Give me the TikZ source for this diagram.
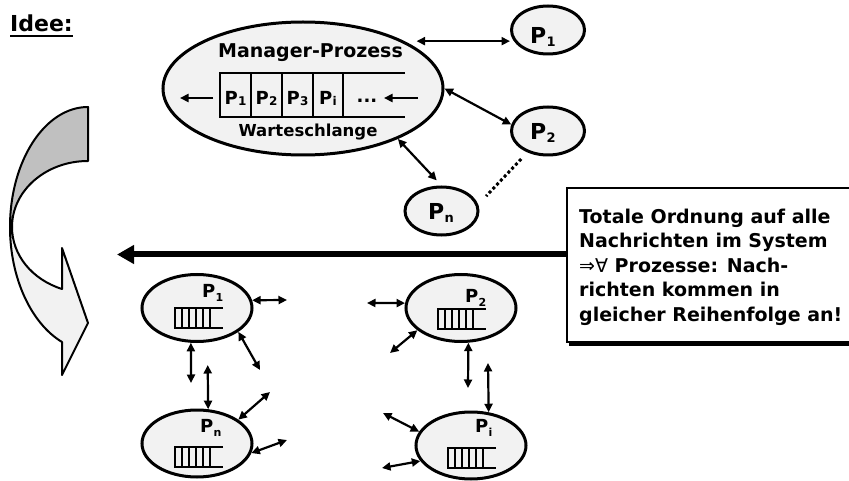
\documentclass[tikz,border=0pt]{standalone}
\usepackage{fontspec}
\setmainfont{DejaVu Sans}
\usetikzlibrary{arrows.meta,shapes.geometric}
\definecolor{lfill}{HTML}{F2F2F2}
\definecolor{cgray}{HTML}{C0C0C0}
\newcommand\fsz[1]{\fontsize{#1}{#1}\selectfont}
\newcommand\Psub[3]{P\kern0.3pt\raisebox{-#3pt}{\fsz{#2}#1}}
\begin{document}
\begin{tikzpicture}[x=1pt,y=-1pt,
  txt/.style={inner sep=0pt, font=\bfseries},
  proc/.style={ellipse, draw, line width=3pt, fill=lfill, inner sep=0pt},
  small/.style={minimum width=73pt, minimum height=48pt},
  big/.style={minimum width=110pt, minimum height=67pt},
  dbl/.style={line width=2.2pt, <->, >={Triangle[length=8.5pt,width=8pt]}},
  sgl/.style={line width=2.2pt, ->, >={Triangle[length=8.5pt,width=8pt]}},
  bigarrow/.style={line width=6pt, ->, >={Triangle[length=17pt,width=18pt]}},
  qline/.style={line width=1.5pt},
  miniq/.pic={
    \draw[line width=1.3pt] (48,0) -- (0,0) -- (0,20) -- (48,20);
    \foreach \xx in {7,14,21,28,35} \draw[line width=1.3pt] (\xx,0) -- (\xx,20);
  }
]
\useasboundingbox (0,0) rectangle (849,481);

% title
\node[txt, font=\bfseries\fsz{22}, anchor=base west] (idee) at (10,32) {Idee:};
\draw[line width=2pt] ([yshift=-4pt]idee.base west) -- ([yshift=-4pt]idee.base east);

% curved arrow
\filldraw[fill=cgray, line width=2pt, line join=round]
  (88,107) -- (88,161) .. controls (46,161) and (12,190.6) .. (12,227)
  -- (10,227) .. controls (10,160.8) and (45,107) .. (88,107) -- cycle;
\filldraw[fill=lfill, line width=2pt, line join=round]
  (12,227) .. controls (12,254.9) and (31.8,279.4) .. (62,289)
  -- (62,248) -- (88,323) -- (62,375) -- (62,342)
  .. controls (30.9,323.2) and (10,277.7) .. (10,227) -- cycle;

% manager process
\node[proc, minimum width=280pt, minimum height=133pt] (mgr) at (303,88.5) {};
\node[txt, font=\bfseries\fsz{19}, anchor=base] (mgrlbl) at (310.5,58) {Manager-Prozess};
\node[txt, font=\bfseries\fsz{16.5}, anchor=base] (wlbl) at (308,137) {Warteschlange};
\draw[qline] (405,73) -- (220,73) -- (220,117) -- (405,117);
\foreach \xx in {251,282,313,343} \draw[qline] (\xx,73) -- (\xx,117);
\node[txt, font=\bfseries\fsz{18}, anchor=base] (q1) at (235.5,105) {\Psub{1}{12}{1}};
\node[txt, font=\bfseries\fsz{18}, anchor=base] (q2) at (266.5,105) {\Psub{2}{12}{1}};
\node[txt, font=\bfseries\fsz{18}, anchor=base] (q3) at (297.5,105) {\Psub{3}{12}{1}};
\node[txt, font=\bfseries\fsz{18}, anchor=base] (q4) at (328,105) {\Psub{i}{12}{1}};
\node[txt, font=\bfseries\fsz{18}, anchor=base] (qd) at (367,103) {...};
\coordinate (qa1) at (213,98); \coordinate (qa2) at (180,98);
\coordinate (qb1) at (418,98); \coordinate (qb2) at (384,98);
\draw[sgl] (qa1) -- (qa2);
\draw[sgl] (qb1) -- (qb2);

% top processes
\node[proc, small] (p1t) at (548,30) {};
\node[proc, small] (p2t) at (548,131) {};
\node[proc, small] (pnt) at (441.5,211) {};
\node[txt, font=\bfseries\fsz{22}, anchor=base west] (l1t) at (530,44) {\Psub{1}{13}{3}};
\node[txt, font=\bfseries\fsz{22}, anchor=base west] (l2t) at (530,140) {\Psub{2}{13}{3}};
\node[txt, font=\bfseries\fsz{22}, anchor=base west] (lnt) at (428,220) {\Psub{n}{13}{3}};
\draw[dbl, shorten <=12pt] (mgr.25) -- (mgr.25 -| p1t.west);
\draw[dbl] (mgr.0) -- (p2t.170);
\draw[dbl, shorten >=7pt] (mgr.-28) -- (pnt.north);
\draw[line width=3pt, dash pattern=on 3pt off 2.5pt, shorten <=9pt, shorten >=11.5pt] (p2t.-134) -- (pnt.10);

% box with shadow
\node[fill=black, minimum width=315.5pt, minimum height=156.5pt, inner sep=0pt] (boxsh) at (726.5,268) {};
\node[draw, line width=2.5pt, fill=white, minimum width=313pt, minimum height=154pt, inner sep=0pt] (box) at (723.5,265) {};
\node[txt, font=\bfseries\fontsize{19}{24.5}\selectfont, align=left, anchor=north west] (btxt) at (579,208.6)
  {Totale Ordnung auf alle\\Nachrichten im System\\{\mdseries ⇒∀} Prozesse: Nach-\\richten kommen in\\gleicher Reihenfolge an!};
\coordinate (bigtip) at (117,254.5);
\draw[bigarrow] (box.west |- bigtip) -- (bigtip);

% bottom processes
\node[proc, big] (b1) at (197,308) {};
\node[proc, big] (b2) at (461,308) {};
\node[proc, big] (bn) at (197,443.5) {};
\node[proc, big] (bi) at (471,445.5) {};
\node[txt, font=\bfseries\fsz{18}, anchor=base west] (lb1) at (202,298) {\Psub{1}{11}{4}};
\node[txt, font=\bfseries\fsz{18}, anchor=base west] (lb2) at (465,302) {\Psub{2}{11}{4}};
\node[txt, font=\bfseries\fsz{18}, anchor=base west] (lbn) at (200,432) {\Psub{n}{11}{4}};
\node[txt, font=\bfseries\fsz{18}, anchor=base west] (lbi) at (475,432) {\Psub{i}{11}{4}};
\pic at (175,308) {miniq};
\pic at (438,309) {miniq};
\pic at (175,447) {miniq};
\pic at (448,448) {miniq};

\coordinate (e1) at (287,300);
\coordinate (e2) at (367,303);
\coordinate (e3) at (260,370);
\coordinate (e4) at (390,353);
\coordinate (e5) at (191,383);
\coordinate (e6) at (207.7,365);
\coordinate (e7) at (468,388);
\coordinate (e8) at (488,363);
\coordinate (e9) at (270,392);
\coordinate (e10) at (287,440);
\coordinate (e11) at (383,413);
\coordinate (e12) at (382,468);
\draw[dbl] (b1.8) -- (e1);
\draw[dbl] (b2.175) -- (e2);
\draw[dbl] (b1.-30) -- (e3);
\draw[dbl] (b2.-153) -- (e4);
\draw[dbl] (b1.-100) -- (e5);
\draw[dbl] (bn.72) -- (e6);
\draw[dbl] (b2.-78) -- (e7);
\draw[dbl] (bi.62) -- (e8);
\draw[dbl] (bn.30) -- (e9);
\draw[dbl] (bn.-10) -- (e10);
\draw[dbl] (bi.165) -- (e11);
\draw[dbl] (bi.197) -- (e12);
\end{tikzpicture}
\end{document}
